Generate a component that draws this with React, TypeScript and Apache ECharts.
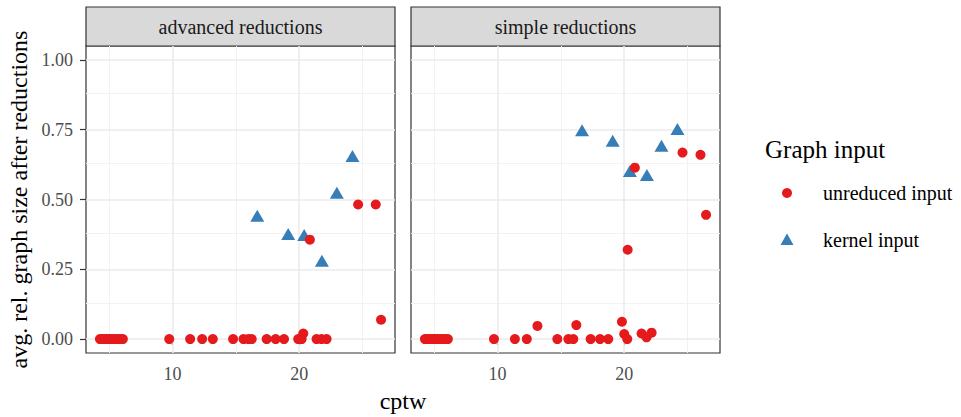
import React, { useEffect, useRef } from "react";
import * as echarts from "echarts";

// cptw values and relative graph sizes, one pair of arrays per facet and input type
const advUnreducedX = [4.27, 4.42, 4.6, 4.73, 4.9, 5.05, 5.2, 5.38, 5.55, 5.72, 5.9, 6.08, 9.74, 11.39, 12.34, 13.18, 14.78, 15.6, 15.99, 16.25, 17.43, 18.14, 18.8, 19.92, 20.19, 20.32, 20.84, 21.37, 21.76, 22.16, 24.65, 26.04, 26.46];
const advUnreducedY = [0, 0, 0, 0, 0, 0, 0, 0, 0, 0, 0, 0, 0, 0, 0, 0, 0, 0, 0, 0, 0, 0, 0, 0, 0, 0.02, 0.356, 0, 0, 0, 0.482, 0.482, 0.069];
const advKernelX = [16.69, 19.13, 20.39, 21.79, 22.97, 24.2];
const advKernelY = [0.435, 0.369, 0.366, 0.273, 0.517, 0.649];

const simUnreducedX = [4.27, 4.42, 4.6, 4.73, 4.9, 5.05, 5.2, 5.38, 5.55, 5.72, 5.9, 6.08, 9.72, 11.37, 12.31, 13.15, 14.72, 15.59, 15.98, 16.22, 17.35, 18.09, 18.74, 19.82, 20.0, 20.24, 20.27, 20.84, 21.37, 21.76, 22.16, 24.6, 26.02, 26.46];
const simUnreducedY = [0, 0, 0, 0, 0, 0, 0, 0, 0, 0, 0, 0, 0, 0, 0, 0.047, 0, 0, 0, 0.05, 0, 0, 0, 0.062, 0.018, 0, 0.32, 0.614, 0.02, 0.006, 0.023, 0.668, 0.66, 0.445];
const simKernelX = [16.67, 19.09, 20.45, 21.79, 22.94, 24.2];
const simKernelY = [0.741, 0.703, 0.595, 0.581, 0.685, 0.745];

const panelTitles = ["advanced reductions", "simple reductions"];
const xTicks = [10, 20];
const xMinor = [5, 15, 25];
const yTicks = [0, 0.25, 0.5, 0.75, 1];
const yMinor = [0.125, 0.375, 0.625, 0.875];
const legendLabels = ["unreduced input", "kernel input"];

const RED = "#E41A1C";
const BLUE = "#377EB8";
const FONT = "'Liberation Serif', 'DejaVu Serif', serif";

const X_MIN = 3.17;
const X_MAX = 27.56;
const Y_MIN = -0.05;
const Y_MAX = 1.05;

const PANEL_TOP = 46;
const PANEL_H = 307;
const PANEL_W = 309;
const PANEL_LEFT = [86, 411];
const STRIP_H = 39;

function zip(xs: number[], ys: number[]) {
  return xs.map((x, i) => [x, ys[i]]);
}

function gridLines() {
  const major = { color: "#EBEBEB", width: 1.6, type: "solid" as const };
  const minor = { color: "#F2F2F2", width: 1, type: "solid" as const };
  return [
    ...xMinor.map((v) => ({ xAxis: v, lineStyle: minor })),
    ...yMinor.map((v) => ({ yAxis: v, lineStyle: minor })),
    ...xTicks.map((v) => ({ xAxis: v, lineStyle: major })),
    ...yTicks.map((v) => ({ yAxis: v, lineStyle: major })),
  ];
}

export default function App() {
  const ref = useRef<HTMLDivElement>(null);

  useEffect(() => {
    if (!ref.current) return;
    const chart = echarts.init(ref.current, undefined, { renderer: "svg" });

    const panels = [
      { u: zip(advUnreducedX, advUnreducedY), k: zip(advKernelX, advKernelY) },
      { u: zip(simUnreducedX, simUnreducedY), k: zip(simKernelX, simKernelY) },
    ];

    const series: any[] = [];
    panels.forEach((p, i) => {
      series.push({
        type: "scatter",
        xAxisIndex: i,
        yAxisIndex: i,
        data: [],
        silent: true,
        z: 1,
        markLine: {
          silent: true,
          symbol: "none",
          z: 1,
          label: { show: false },
          emphasis: { disabled: true },
          data: gridLines(),
        },
      });
      series.push({
        name: legendLabels[1],
        type: "scatter",
        xAxisIndex: i,
        yAxisIndex: i,
        symbol: "triangle",
        symbolSize: [14, 12],
        symbolOffset: [0, -2],
        itemStyle: { color: BLUE, opacity: 1 },
        z: 3,
        data: p.k,
      });
      series.push({
        name: legendLabels[0],
        type: "scatter",
        xAxisIndex: i,
        yAxisIndex: i,
        symbol: "circle",
        symbolSize: 10,
        itemStyle: { color: RED, opacity: 1 },
        z: 4,
        data: p.u,
      });
    });

    const graphic: any[] = [];
    PANEL_LEFT.forEach((left, i) => {
      graphic.push({
        type: "rect",
        shape: { x: left, y: PANEL_TOP - STRIP_H, width: PANEL_W, height: STRIP_H },
        style: { fill: "#D9D9D9", stroke: "#333333", lineWidth: 1.2 },
      });
      graphic.push({
        type: "text",
        x: left + PANEL_W / 2,
        y: PANEL_TOP - STRIP_H / 2,
        style: {
          text: panelTitles[i],
          fontFamily: FONT,
          fontSize: 20,
          fill: "#1A1A1A",
          align: "center",
          verticalAlign: "middle",
        },
      });
    });

    // axis titles
    graphic.push({
      type: "text",
      x: (PANEL_LEFT[0] + PANEL_LEFT[1] + PANEL_W) / 2,
      y: 401,
      style: { text: "cptw", fontFamily: FONT, fontSize: 24, fill: "#000", align: "center", verticalAlign: "middle" },
    });
    graphic.push({
      type: "text",
      x: 19,
      y: PANEL_TOP + PANEL_H / 2,
      rotation: Math.PI / 2,
      style: {
        text: "avg. rel. graph size after reductions",
        fontFamily: FONT,
        fontSize: 24,
        fill: "#000",
        align: "center",
        verticalAlign: "middle",
      },
    });

    // legend
    graphic.push({
      type: "text",
      x: 765,
      y: 149,
      style: { text: "Graph input", fontFamily: FONT, fontSize: 25, fill: "#000", align: "left", verticalAlign: "middle" },
    });
    graphic.push({ type: "circle", shape: { cx: 787, cy: 193, r: 5 }, style: { fill: RED } });
    graphic.push({
      type: "polygon",
      shape: { points: [[787, 233.5], [793.5, 245], [780.5, 245]] },
      style: { fill: BLUE },
    });
    [193, 240].forEach((y, i) => {
      graphic.push({
        type: "text",
        x: 823,
        y,
        style: { text: legendLabels[i], fontFamily: FONT, fontSize: 20, fill: "#000", align: "left", verticalAlign: "middle" },
      });
    });

    const grids = PANEL_LEFT.map((left) => ({
      left,
      top: PANEL_TOP,
      width: PANEL_W,
      height: PANEL_H,
      show: true,
      backgroundColor: "#FFFFFF",
      borderColor: "#333333",
      borderWidth: 1.2,
      containLabel: false,
    }));

    const xAxes = PANEL_LEFT.map((_, i) => ({
      type: "value",
      gridIndex: i,
      min: X_MIN,
      max: X_MAX,
      axisLine: { show: false },
      splitLine: { show: false },
      axisTick: { show: true, length: 6, customValues: xTicks, lineStyle: { color: "#333333", width: 1.2 } },
      axisLabel: {
        show: true,
        customValues: xTicks,
        margin: 12,
        color: "#4D4D4D",
        fontFamily: FONT,
        fontSize: 18,
        formatter: (v: number) => String(v),
      },
    }));

    const yAxes = PANEL_LEFT.map((_, i) => ({
      type: "value",
      gridIndex: i,
      min: Y_MIN,
      max: Y_MAX,
      axisLine: { show: false },
      splitLine: { show: false },
      axisTick: { show: i === 0, length: 6, customValues: yTicks, lineStyle: { color: "#333333", width: 1.2 } },
      axisLabel: {
        show: i === 0,
        customValues: yTicks,
        margin: 13,
        color: "#4D4D4D",
        fontFamily: FONT,
        fontSize: 18,
        formatter: (v: number) => v.toFixed(2),
      },
    }));

    chart.setOption({
      animation: false,
      backgroundColor: "#FFFFFF",
      grid: grids,
      xAxis: xAxes,
      yAxis: yAxes,
      series,
      graphic,
    });

    return () => chart.dispose();
  }, []);

  return <div ref={ref} style={{ width: 961, height: 417, position: "absolute", left: 0, top: 0 }} />;
}
